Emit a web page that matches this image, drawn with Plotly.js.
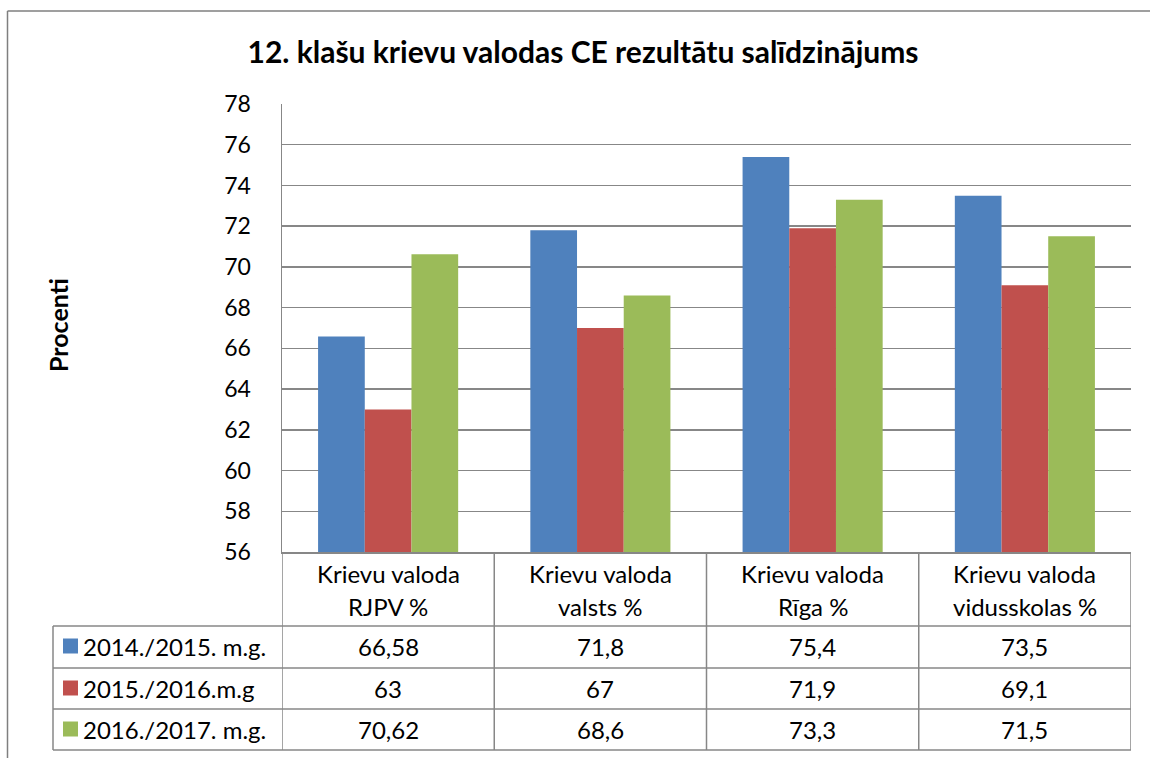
<!DOCTYPE html>
<html><head><meta charset="utf-8">
<script src="https://cdn.plot.ly/plotly-3.0.1.min.js"></script>
<style>html,body{margin:0;padding:0;background:#fff}#chart{width:1150px;height:758px}</style>
</head><body><div id="chart"></div>
<script>
const categories = ["Krievu valoda<br>RJPV %", "Krievu valoda<br>valsts %", "Krievu valoda<br>Rīga %", "Krievu valoda<br>vidusskolas %"];
const seriesNames = ["2014./2015. m.g.", "2015./2016.m.g", "2016./2017. m.g."];
const s2014 = [66.58, 71.8, 75.4, 73.5];
const s2015 = [63, 67, 71.9, 69.1];
const s2016 = [70.62, 68.6, 73.3, 71.5];
const seriesColors = ["#4F81BD", "#C0504D", "#9BBB59"];
const yTicks = [56, 58, 60, 62, 64, 66, 68, 70, 72, 74, 76, 78];

const series = [s2014, s2015, s2016];
const FONT = "Lato, 'Open Sans', sans-serif";
const W = 1150, H = 758;
const L = 282, R = 1131, T = 104, B = 552;
const px = x => (x - L) / (R - L);
const py = y => (B - y) / (B - T);
const grid = "#878787";

const traces = series.map((vals, i) => ({
  type: "bar", x: [0,1,2,3], y: vals, name: seriesNames[i],
  marker: {color: seriesColors[i], line: {width: 0}}, hoverinfo: "none"
}));

const shapes = [];
const annotations = [];
const line = (x0, y0, x1, y1, xref, yref, color, w) => shapes.push({type: "line", x0, y0, x1, y1, xref: xref || "paper", yref: yref || "paper", line: {color: color || grid, width: w || 1.5}});

// table grid
const rowY = [626, 668, 709, 750];
rowY.forEach(y => line(px(53), py(y), 1, py(y)));
line(px(53), py(626), px(53), py(750));
[-0.5, 0.5, 1.5, 2.5, 3.5].forEach(c => line(c, 0, c, py(750), "x", "paper"));
// outer chart border
line(px(7.5), py(11), px(7.5), py(770), "paper", "paper", "#7f7f7f", 1.5);
line(px(7.5), py(11), px(1160), py(11), "paper", "paper", "#7f7f7f", 1.5);

// header category labels
categories.forEach((c, i) => {
  const parts = c.split("<br>");
  [573, 606].forEach((y, k) => annotations.push({x: i, xref: "x", y: py(y), yref: "paper", text: parts[k], showarrow: false, xanchor: "center", yanchor: "middle", font: {family: FONT, size: 24, color: "#000"}}));
});
// data rows
const rowC = [646, 688, 729];
series.forEach((vals, r) => {
  vals.forEach((v, i) => annotations.push({x: i, xref: "x", y: py(rowC[r]), yref: "paper", text: String(v).replace(".", ","), showarrow: false, xanchor: "center", yanchor: "middle", font: {family: FONT, size: 24, color: "#000"}}));
  shapes.push({type: "rect", xref: "paper", yref: "paper", x0: px(63), x1: px(78), y0: py(rowC[r] - 7.5), y1: py(rowC[r] + 7.5), fillcolor: seriesColors[r], line: {width: 0}});
  annotations.push({x: px(81), xref: "paper", y: py(rowC[r]), yref: "paper", text: seriesNames[r], showarrow: false, xanchor: "left", yanchor: "middle", font: {family: FONT, size: 24, color: "#000"}});
});
// y axis title
annotations.push({x: px(58), xref: "paper", y: py(325), yref: "paper", text: "<b>Procenti</b>", textangle: -90, showarrow: false, xanchor: "center", yanchor: "middle", font: {family: FONT, size: 25, color: "#000"}});
// page caption (clipped at top, as in the source page)
annotations.push({x: px(1023), xref: "paper", y: py(5), yref: "paper", text: "9. attēls", showarrow: false, xanchor: "left", yanchor: "bottom", font: {family: "'Liberation Serif', serif", size: 24, color: "#000"}});

const layout = {
  width: W, height: H,
  margin: {l: L, r: W - R, t: T, b: H - B, pad: 0},
  paper_bgcolor: "#fff", plot_bgcolor: "#fff",
  showlegend: false,
  barmode: "group", bargap: 0.34, bargroupgap: 0,
  title: {text: "<b>12. klašu krievu valodas CE rezultātu salīdzinājums</b>", x: 583 / W, xref: "container", xanchor: "center", y: 1 - 52 / H, yref: "container", yanchor: "middle", font: {family: FONT, size: 30, color: "#000"}},
  xaxis: {range: [-0.5, 3.5], showticklabels: false, showgrid: false, zeroline: false, showline: true, linecolor: grid, linewidth: 1.5, fixedrange: true},
  yaxis: {range: [56, 78], tickvals: yTicks, ticktext: yTicks.map(String), showgrid: true, gridcolor: grid, gridwidth: 1.5, zeroline: false, showline: true, linecolor: grid, linewidth: 1.5, ticks: "", ticklabelstandoff: 25, tickfont: {family: FONT, size: 23, color: "#000"}, fixedrange: true},
  shapes, annotations
};
Plotly.newPlot("chart", traces, layout, {displayModeBar: false, staticPlot: true});
</script></body></html>
